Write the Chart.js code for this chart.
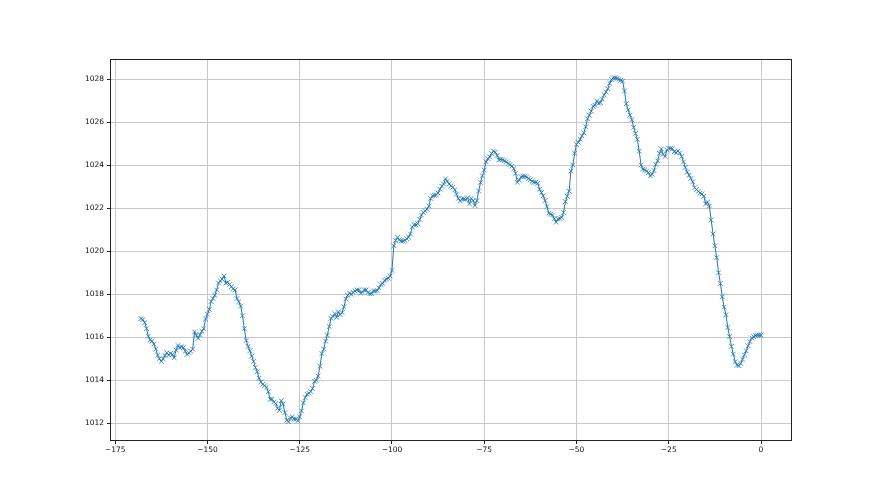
<!DOCTYPE html>
<html>
<head>
<meta charset="utf-8">
<script src="https://cdn.jsdelivr.net/npm/chart.js@4"></script>
<style>
html,body{margin:0;padding:0;background:#fff;}
#wrap{width:880px;height:495px;}
</style>
</head>
<body>
<div id="wrap"><canvas id="c" width="880" height="495"></canvas></div>
<script>
// Hours relative to now (half-hourly samples from -168 h to 0 h)
const startHour = -168;
const stepHour = 0.5;

// Pressure readings (hPa), in chronological segments
const pressureWeekStart = [
1016.87,1016.82,1016.68,1016.40,1016.05,1015.88,1015.82,1015.68,1015.45,1015.17,
1015.00,1014.88,1015.00,1015.15,1015.28,1015.18,1015.25,1015.20,1015.05,1015.40,
1015.62,1015.52,1015.56,1015.52,1015.35,1015.20,1015.28,1015.35,1015.45,1016.25,
1016.10,1015.95,1016.12,1016.28,1016.40,1016.85,1017.07,1017.30,1017.66,1017.80,
1017.95,1018.20,1018.52,1018.62,1018.70,1018.85,1018.52,1018.55,1018.45,1018.35,
1018.25,1018.20,1017.80,1017.65,1017.45,1017.00,1016.40,1015.85,1015.58,1015.37,
1015.12,1014.88,1014.60,1014.40,1014.10,1013.92,1013.82,1013.75,1013.68,1013.47,
1013.12];
const pressureTroughRise = [
1013.12,1012.99,1012.92,1012.70,1012.60,1013.05,1012.90,1012.50,1012.15,1012.07,
1012.25,1012.30,1012.20,1012.20,1012.12,1012.30,1012.58,1012.95,1013.20,1013.35,
1013.40,1013.48,1013.62,1013.95,1014.00,1014.20,1014.65,1015.24,1015.45,1015.82,
1016.10,1016.50,1016.88,1016.97,1017.10,1016.93,1017.18,1017.05,1017.15,1017.42,
1017.78,1017.95,1018.05,1018.00,1018.08,1018.15,1018.20,1018.20,1018.05,1018.10,
1018.20,1018.20,1018.08,1018.02,1018.03,1018.15,1018.15,1018.17,1018.30,1018.45,
1018.50,1018.65,1018.70,1018.74,1018.85,1019.10];
const pressureMidWeek = [
1020.25,1020.50,1020.65,1020.52,1020.47,1020.47,1020.50,1020.58,1020.65,1020.80,
1021.13,1021.22,1021.22,1021.28,1021.48,1021.68,1021.80,1021.87,1021.95,1022.10,
1022.45,1022.57,1022.60,1022.62,1022.70,1022.88,1023.02,1023.12,1023.36,1023.25,
1023.12,1023.04,1022.97,1022.85,1022.65,1022.45,1022.33,1022.44,1022.42,1022.40,
1022.48,1022.20,1022.45,1022.35,1022.12,1022.35,1022.80,1023.20,1023.50,1023.77];
const pressureShoulder = [
1024.15,1024.30,1024.38,1024.54,1024.65,1024.60,1024.45,1024.25,1024.26,1024.25,
1024.20,1024.15,1024.08,1024.02,1023.95,1023.83,1023.62,1023.20];
const pressurePeak = [
1023.30,1023.46,1023.48,1023.48,1023.45,1023.37,1023.32,1023.25,1023.20,1023.20,
1023.15,1022.88,1022.72,1022.57,1022.35,1022.07,1021.77,1021.72,1021.68,1021.50,
1021.35,1021.50,1021.52,1021.57,1021.80,1022.30,1022.55,1022.79,1023.72,1024.00,
1024.55,1024.96,1025.05,1025.20,1025.36,1025.50,1025.78,1026.15,1026.32,1026.50,
1026.73,1026.78,1026.98,1026.87,1026.90,1027.07,1027.27,1027.40,1027.55,1027.80,
1027.98,1028.05,1028.05,1028.03,1027.98,1027.94,1027.90,1027.45,1026.85,1026.57,
1026.32,1026.10,1025.75,1025.47,1025.20,1024.65,1024.00,1023.80,1023.78,1023.72,
1023.65,1023.50];
const pressureWeekEnd = [
1023.57,1023.75,1024.03,1024.20,1024.55,1024.75,1024.50,1024.40,1024.70,1024.78,
1024.78,1024.76,1024.62,1024.58,1024.65,1024.57,1024.40,1024.15,1023.90,1023.68,
1023.53,1023.38,1023.22,1022.95,1022.87,1022.78,1022.70,1022.66,1022.55,1022.20,
1022.28,1022.10,1021.45,1020.80,1020.25,1019.70,1019.00,1018.50,1017.88,1017.40,
1017.05,1016.45,1016.03,1015.58,1015.22,1014.87,1014.70,1014.68,1014.78,1014.98,
1015.18,1015.37,1015.60,1015.80,1015.97,1016.03,1016.08,1016.10,1016.10,1016.10];

const xTicks = [-175,-150,-125,-100,-75,-50,-25,0];
const yTicks = [1012,1014,1016,1018,1020,1022,1024,1026,1028];

const pressure = [].concat(pressureWeekStart, pressureTroughRise, pressureMidWeek,
  pressureShoulder, pressurePeak, pressureWeekEnd);
const points = pressure.map((p, i) => ({x: startHour + i * stepHour, y: p}));

const frame = {
  id: 'frame',
  afterDraw(chart) {
    const a = chart.chartArea, ctx = chart.ctx;
    ctx.save();
    ctx.strokeStyle = '#222';
    ctx.lineWidth = 1;
    ctx.strokeRect(Math.round(a.left) + 0.5, Math.round(a.top) + 0.5,
      Math.round(a.right - a.left) - 1, Math.round(a.bottom - a.top) - 1);
    ctx.restore();
  }
};

const fmt = v => (v < 0 ? '\u2212' + Math.abs(v) : String(v));
const tickFont = {family: 'DejaVu Sans', size: 7.5};

new Chart(document.getElementById('c'), {
  type: 'scatter',
  data: {
    datasets: [{
      data: points,
      showLine: true,
      borderColor: '#1f77b4',
      backgroundColor: '#1f77b4',
      borderWidth: 1,
      pointStyle: 'crossRot',
      pointRadius: 3.3,
      pointBorderWidth: 0.8,
      pointBorderColor: '#1f77b4',
      pointHoverRadius: 3.3,
      tension: 0
    }]
  },
  options: {
    responsive: false,
    animation: false,
    devicePixelRatio: 1,
    layout: {padding: {top: 59, right: 88, left: 0, bottom: 0}},
    plugins: {legend: {display: false}, tooltip: {enabled: false}},
    scales: {
      x: {
        type: 'linear',
        min: -176.4,
        max: 8.4,
        afterBuildTicks: s => { s.ticks = xTicks.map(v => ({value: v})); },
        afterFit: s => { s.height = 54; },
        border: {display: false},
        grid: {color: '#c8c8c8', lineWidth: 1, tickColor: '#222', tickLength: 3, drawTicks: true},
        ticks: {color: '#111', font: tickFont, padding: 2, maxRotation: 0, autoSkip: false,
          callback: v => fmt(v)}
      },
      y: {
        type: 'linear',
        min: 1011.18,
        max: 1028.93,
        afterBuildTicks: s => { s.ticks = yTicks.map(v => ({value: v})); },
        afterFit: s => { s.width = 110; },
        border: {display: false},
        grid: {color: '#c8c8c8', lineWidth: 1, tickColor: '#222', tickLength: 3, drawTicks: true},
        ticks: {color: '#111', font: tickFont, padding: 3, autoSkip: false,
          callback: v => fmt(v)}
      }
    }
  },
  plugins: [frame]
});
</script>
</body>
</html>
